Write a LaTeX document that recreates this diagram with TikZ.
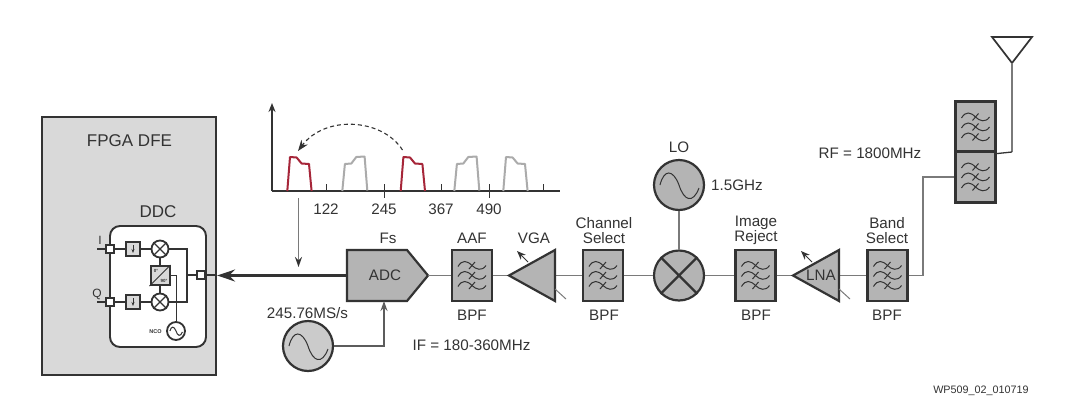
\documentclass[tikz,border=0pt]{standalone}
\usepackage{fontspec}
\setmainfont{Liberation Sans}
\usetikzlibrary{arrows.meta,calc}
\definecolor{inkgray}{HTML}{333333}
\definecolor{wiregray}{HTML}{7A7A7A}
\definecolor{bodygray}{HTML}{B4B4B4}
\definecolor{panelgray}{HTML}{D9D9D9}
\definecolor{humpred}{HTML}{A62639}
\definecolor{humpgray}{HTML}{ABABAB}
\tikzset{
	lbl/.style={text=inkgray, inner sep=0pt, font=\fontsize{15.2}{17}\selectfont},
	biglbl/.style={text=inkgray, inner sep=0pt, font=\fontsize{17}{19}\selectfont},
	twolbl/.style={lbl, align=center, font=\fontsize{15.2}{15}\selectfont},
	wire/.style={draw=wiregray, line width=1.5pt},
	darkwire/.style={draw=inkgray, line width=1.2pt},
	filterbox/.style={draw=inkgray, fill=bodygray, line width=2.2pt, minimum width=40pt, minimum height=51pt, inner sep=0pt},
	bigcirc/.style={circle, draw=inkgray, fill=bodygray, line width=2.2pt, minimum size=50pt, inner sep=0pt},
	ampbody/.style={draw=inkgray, fill=bodygray, line width=2.2pt, line join=miter},
	port/.style={draw=inkgray, fill=white, line width=1.8pt, minimum size=8pt, inner sep=0pt},
	smallbox/.style={draw=inkgray, fill=panelgray, line width=1.8pt, minimum size=14pt, inner sep=0pt},
	smallcirc/.style={circle, draw=inkgray, fill=white, line width=1.8pt, minimum size=17pt, inner sep=0pt},
}
\def\filterwaves(#1){
	\begin{scope}[shift={(#1)}, draw=inkgray, line width=1pt]
		\foreach \rowy in {-10,0,10} {
			\draw (-14,\rowy+1) .. controls (-10,\rowy-6) and (-5,\rowy-5) .. (0,\rowy)
				.. controls (4,\rowy+4) and (10,\rowy+6) .. (14,\rowy);
			\draw (-3,\rowy+3.5) -- (3,\rowy-3.5);
		}
	\end{scope}
}
\def\sinewave[#1](#2){
	\begin{scope}[shift={(#2)}, scale=#1]
		\draw[draw=inkgray, line width=1pt] (-19,0) .. controls (-15,-16) and (-6,-16) .. (0,0)
			.. controls (5,16) and (14,19) .. (20,3);
	\end{scope}
}
\def\hump[#1](#2){
	\draw[#1, line width=2pt, line join=round] ($(#2)$) -- ++(2.7,-34) -- ++(6.6,0.5) -- ++(5,6) -- ++(7.4,0.5) -- ++(2.6,27);
}
\def\humpflip[#1](#2){
	\draw[#1, line width=2pt, line join=round] ($(#2)$) -- ++(2.6,-27) -- ++(6.4,-0.5) -- ++(5,-6.5) -- ++(8.3,-0.5) -- ++(2.7,34);
}
\begin{document}
\begin{tikzpicture}[x=1pt, y=-1pt]
	\path[use as bounding box, fill=white] (0,0) rectangle (1072,405);

	%%% FPGA side
	\node[draw=inkgray, fill=panelgray, line width=2.2pt, minimum width=174pt, minimum height=258pt, inner sep=0pt] (fpga) at (129,246) {};
	\node[biglbl] (fpgalbl) at (129.5,141) {FPGA DFE};
	\node[biglbl] (ddclbl) at (158,212) {DDC};
	\node[draw=inkgray, fill=white, line width=1.9pt, rounded corners=10pt, minimum width=96pt, minimum height=121pt, inner sep=0pt] (ddc) at (158,286.5) {};

	\node[port] (iport) at (110,249) {};
	\node[port] (qport) at (110,302) {};
	\node[port] (outport) at (201,275) {};
	\node[smallbox] (idec) at (133,249) {};
	\node[smallbox] (qdec) at (133,302) {};
	\node[smallcirc] (imix) at (160,249) {};
	\node[smallcirc] (qmix) at (160,302) {};
	\node[draw=inkgray, fill=panelgray, line width=2pt, minimum size=19pt, inner sep=0pt] (phase) at (160,275.5) {};
	\node[smallcirc, minimum size=18pt] (nco) at (176,331) {};
	\sinewave[0.32](nco)
	\node[text=inkgray, inner sep=0pt, font=\fontsize{5.5}{6}\selectfont\bfseries] (ncolbl) at (155.5,332) {NCO};
	\node[lbl, font=\fontsize{12}{13}\selectfont] (ilbl) at (100,240) {I};
	\node[lbl, font=\fontsize{12}{13}\selectfont] (qlbl) at (97,294) {Q};
	\coordinate (istub) at (97,249);
	\coordinate (qstub) at (97,302);
	\coordinate (ijoin) at (187,249);
	\coordinate (qjoin) at (187,302);
	\coordinate (ojoin) at (187,275);
	\coordinate (ncoup) at (176,275.5);

	\draw[darkwire] (istub) -- (iport);
	\draw[darkwire] (qstub) -- (qport);
	\draw[darkwire] (iport) -- (idec);
	\draw[darkwire] (qport) -- (qdec);
	\draw[darkwire] (idec) -- (imix);
	\draw[darkwire] (qdec) -- (qmix);
	\draw[darkwire] (imix) -- (phase);
	\draw[darkwire] (qmix) -- (phase);
	\draw[darkwire] (imix) -- (ijoin) -- (qjoin) -- (qmix);
	\draw[darkwire] (ojoin) -- (outport);
	\draw[darkwire, line width=0.9pt] (phase) -- (ncoup) -- (nco);
	\draw[inkgray, line width=1.2pt] (imix.45) -- (imix.225) (imix.135) -- (imix.315);
	\draw[inkgray, line width=1.2pt] (qmix.45) -- (qmix.225) (qmix.135) -- (qmix.315);
	\draw[inkgray, line width=0.7pt, -{Stealth[length=4pt,width=3pt]}] ($(idec)+(0,-4)$) -- ($(idec)+(0,4)$);
	\draw[inkgray, line width=0.7pt, -{Stealth[length=4pt,width=3pt]}] ($(qdec)+(0,-4)$) -- ($(qdec)+(0,4)$);
	\draw[inkgray, line width=1pt] (phase.south west) -- (phase.north east);
	\node[text=inkgray, inner sep=0pt, font=\fontsize{4.5}{5}\selectfont\bfseries] (zerolbl) at (156,271) {0°};
	\node[text=inkgray, inner sep=0pt, font=\fontsize{4.5}{5}\selectfont\bfseries] (ninetylbl) at (164,281) {90°};

	%%% spectrum
	\coordinate (orig) at (272,191);
	\draw[inkgray, line width=1.9pt, -{Stealth[length=9pt,width=7pt]}] (orig) -- (272,103);
	\draw[inkgray, line width=1.9pt] (orig) -- (560,191);
	\foreach \tickx in {326,441,543} {
		\draw[inkgray, line width=1pt] (\tickx,184) -- (\tickx,191);
	}
	\foreach \tickx in {384,489} {
		\draw[inkgray, line width=1pt] (\tickx,184) -- (\tickx,198);
	}
	\hump[humpred](287.3,191)
	\hump[humpred](400.7,191)
	\humpflip[humpgray](342.3,191)
	\humpflip[humpgray](454.3,191)
	\hump[humpgray](503.3,191)
	\node[lbl] (f122) at (326,209.5) {122};
	\node[lbl] (f245) at (384,209.5) {245};
	\node[lbl] (f367) at (441,209.5) {367};
	\node[lbl] (f490) at (489,209.5) {490};
	\draw[inkgray, line width=1.1pt, dash pattern=on 4pt off 3pt, -{Stealth[length=11pt,width=8pt]}] (402.5,150) .. controls (382,118) and (325,115) .. (298,151);

	%%% signal chain
	\coordinate (adcL) at (347,275.5);
	\coordinate (adcR) at (428,275.5);
	\coordinate (adcB) at (384,301);
	\draw[ampbody] (adcL |- 0,250) -- (407,250) -- (adcR) -- (407,301) -- (adcL |- 0,301) -- cycle;
	\node[lbl] (adclbl) at (385,275.5) {ADC};
	\node[lbl] (fslbl) at (388,238) {Fs};

	\node[filterbox] (aaf) at (472,275.5) {};
	\filterwaves(aaf)
	\node[filterbox] (chan) at (603,275.5) {};
	\filterwaves(chan)
	\node[filterbox] (image) at (755.5,275.5) {};
	\filterwaves(image)
	\node[filterbox] (band) at (887.5,275.5) {};
	\filterwaves(band)
	\node[filterbox] (dupup) at (975.5,127) {};
	\filterwaves(dupup)
	\node[filterbox] (duplo) at (975.5,177) {};
	\filterwaves(duplo)

	\coordinate (vgaL) at (509,275.5);
	\coordinate (vgaR) at (555,275.5);
	\coordinate (lnaL) at (793,275.5);
	\coordinate (lnaR) at (839,275.5);
	\draw[wire] (adcR) -- (aaf);
	\draw[wire] (aaf) -- (vgaL);
	\draw[wire] (vgaR) -- (chan);

	\draw[ampbody] (vgaL) -- (555,250) -- (555,301) -- cycle;
	\draw[inkgray, line width=1pt, -{Stealth[length=9pt,width=7pt]}] (528,262) -- (517,251);
	\draw[wiregray, line width=1pt] (555,289) -- (566,299);
	\node[lbl] (vgalbl) at (534,238) {VGA};

	\node[bigcirc] (mixer) at (679,275.5) {};
	\draw[inkgray, line width=2.2pt] (mixer.45) -- (mixer.225) (mixer.135) -- (mixer.315);
	\node[bigcirc] (lo) at (679,185) {};
	\sinewave[1](lo)
	\node[lbl] (lolbl) at (679,147) {LO};
	\node[lbl] (lofreq) at (737,185) {1.5GHz};
	\draw[wire] (lo) -- (mixer);
	\draw[wire] (chan) -- (mixer);
	\draw[wire] (mixer) -- (image);
	\draw[wire] (image) -- (lnaL);
	\draw[wire] (lnaR) -- (band);

	\draw[ampbody] (lnaL) -- (839,250) -- (839,301) -- cycle;
	\draw[inkgray, line width=1pt, -{Stealth[length=9pt,width=7pt]}] (812,262) -- (801,251);
	\draw[wiregray, line width=1pt] (839,289) -- (850,299);
	\node[lbl] (lnalbl) at (821,275.5) {LNA};

	\node[lbl] (aaflbl) at (472,238) {AAF};
	\node[twolbl] (chanlbl) at (604,230.5) {Channel\\Select};
	\node[twolbl] (imagelbl) at (756,230.5) {Image\\Reject};
	\node[twolbl] (bandlbl) at (887,230.5) {Band\\Select};
	\node[lbl] (bpfa) at (472,315) {BPF};
	\node[lbl] (bpfb) at (604,315) {BPF};
	\node[lbl] (bpfc) at (756,315) {BPF};
	\node[lbl] (bpfd) at (887,315) {BPF};

	%%% to the antenna
	\coordinate (rfA) at (923,275.5);
	\coordinate (rfB) at (923,177);
	\draw[wire] (band) -- (rfA) -- (rfB) -- (duplo);
	\coordinate (antTip) at (1012,63);
	\coordinate (antDrop) at (1012,152);
	\draw[inkgray, line width=1.7pt, line join=miter] (992,37) -- (1032,37) -- (antTip) -- cycle;
	\draw[wiregray, line width=1.3pt] (antTip) -- (antDrop);
	\draw[inkgray, line width=1.3pt] (antDrop) -- (dupup.south east);
	\node[lbl] (rflbl) at (870,153) {RF = 1800MHz};

	%%% ADC in and out
	\node[bigcirc, fill=bodygray!70] (clk) at (308,346) {};
	\sinewave[1](clk)
	\node[lbl] (clklbl) at (307.5,313) {245.76MS/s};
	\node[lbl] (iflbl) at (471.5,345) {IF = 180-360MHz};
	\coordinate (clkcorner) at (384,346);
	\draw[wire, draw=inkgray!80, -{Stealth[length=10pt,width=7pt]}] (clk) -- (clkcorner) -- (adcB);
	\coordinate (downtop) at (298.5,198);
	\coordinate (downend) at (298.5,267);
	\draw[wire, -{Stealth[length=10pt,width=7pt,color=inkgray]}] (downtop) -- (downend);
	\draw[inkgray, line width=2.4pt, -{Stealth[length=18pt,width=12pt]}] (adcL) -- (adcL -| fpga.east);
	\draw[darkwire] (outport) -- (outport -| fpga.east);

	\node[text=inkgray, inner sep=0pt, font=\fontsize{10.8}{12}\selectfont] (wpnum) at (981,391) {WP509\_02\_010719};
\end{tikzpicture}
\end{document}
